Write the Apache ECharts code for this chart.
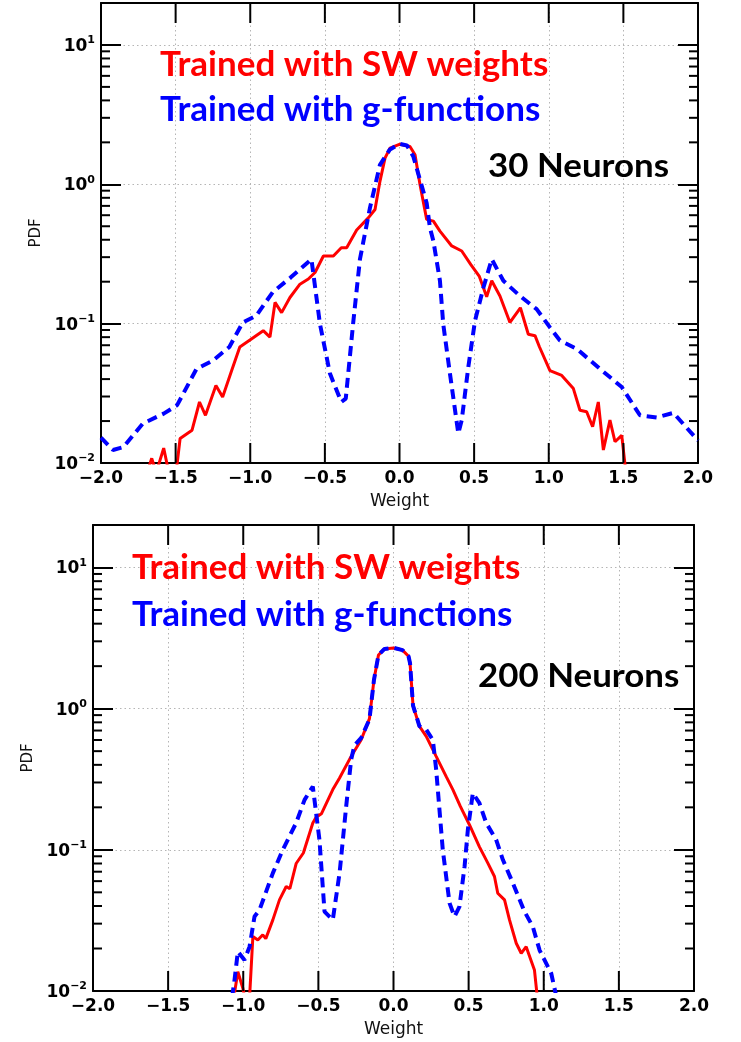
<!DOCTYPE html>
<html>
<head>
<meta charset="utf-8">
<script src="https://cdn.jsdelivr.net/npm/echarts@6/dist/echarts.min.js"></script>
<style>
  html, body { margin: 0; padding: 0; background: #fff; }
  #chart { width: 741px; height: 1042px; }
</style>
</head>
<body>
<div id="chart"></div>
<script>
// ---- 30 neurons: weight distributions ----
const weights30SW = [-1.70, -1.66, -1.63, -1.58, -1.55, -1.50, -1.47, -1.39, -1.34, -1.30, -1.23, -1.185, -1.125, -1.07, -0.99, -0.913, -0.868, -0.834, -0.79, -0.734, -0.667, -0.611, -0.566, -0.51, -0.443, -0.39, -0.354, -0.287, -0.209, -0.164, -0.131, -0.097, -0.064, 0.003, 0.07, 0.104, 0.137, 0.182, 0.227, 0.271, 0.35, 0.417, 0.478, 0.535, 0.584, 0.618, 0.673, 0.74, 0.81, 0.863, 0.908, 0.938, 1.008, 1.087, 1.165, 1.209, 1.254, 1.294, 1.332, 1.366, 1.41, 1.444, 1.489, 1.52];
const pdf30SW = [0.008, 0.0108, 0.0085, 0.0128, 0.009, 0.008, 0.015, 0.0172, 0.0274, 0.022, 0.036, 0.0298, 0.046, 0.068, 0.078, 0.089, 0.080, 0.142, 0.12, 0.154, 0.192, 0.209, 0.233, 0.306, 0.306, 0.351, 0.351, 0.47, 0.574, 0.659, 1.05, 1.54, 1.82, 1.94, 1.87, 1.63, 1.0, 0.56, 0.544, 0.461, 0.361, 0.332, 0.265, 0.218, 0.156, 0.203, 0.158, 0.102, 0.13, 0.084, 0.082, 0.068, 0.046, 0.0425, 0.0342, 0.0239, 0.0233, 0.0182, 0.0274, 0.0124, 0.0203, 0.0142, 0.0158, 0.008];

const weights30G = [-2.0, -1.92, -1.85, -1.72, -1.58, -1.49, -1.36, -1.25, -1.14, -1.05, -0.96, -0.85, -0.73, -0.59, -0.533, -0.466, -0.39, -0.36, -0.31, -0.265, -0.198, -0.131, -0.064, 0.0, 0.05, 0.093, 0.137, 0.182, 0.204, 0.227, 0.249, 0.271, 0.293, 0.338, 0.394, 0.417, 0.461, 0.506, 0.562, 0.618, 0.696, 0.807, 0.919, 1.008, 1.075, 1.187, 1.343, 1.489, 1.611, 1.723, 1.835, 2.0];
const pdf30G = [0.0152, 0.0124, 0.013, 0.0192, 0.0226, 0.026, 0.0474, 0.0544, 0.068, 0.102, 0.114, 0.168, 0.214, 0.29, 0.0995, 0.0438, 0.0274, 0.029, 0.102, 0.29, 0.677, 1.38, 1.78, 1.95, 1.9, 1.58, 1.08, 0.735, 0.487, 0.392, 0.282, 0.203, 0.0995, 0.0438, 0.0163, 0.0203, 0.0488, 0.105, 0.181, 0.29, 0.203, 0.158, 0.127, 0.094, 0.0757, 0.066, 0.0474, 0.0351, 0.022, 0.0212, 0.0229, 0.0145];

// ---- 200 neurons: weight distributions ----
const weights200SW = [-1.07, -1.036, -1.003, -0.98, -0.958, -0.936, -0.903, -0.87, -0.85, -0.803, -0.759, -0.714, -0.69, -0.648, -0.60, -0.537, -0.515, -0.48, -0.404, -0.359, -0.282, -0.215, -0.16, -0.13, -0.10, -0.06, 0.0, 0.06, 0.10, 0.11, 0.13, 0.173, 0.218, 0.284, 0.351, 0.395, 0.445, 0.506, 0.572, 0.628, 0.672, 0.694, 0.739, 0.772, 0.817, 0.85, 0.883, 0.938, 0.955, 0.975];
const pdf200SW = [0.008, 0.0137, 0.0105, 0.008, 0.009, 0.0243, 0.023, 0.025, 0.0235, 0.0319, 0.0442, 0.055, 0.053, 0.08, 0.095, 0.155, 0.17, 0.18, 0.267, 0.323, 0.459, 0.602, 0.85, 1.6, 2.4, 2.65, 2.69, 2.6, 2.35, 2.1, 1.05, 0.748, 0.637, 0.459, 0.33, 0.267, 0.203, 0.15, 0.105, 0.0805, 0.0647, 0.0493, 0.0442, 0.0319, 0.0218, 0.0185, 0.0206, 0.0141, 0.0095, 0.008];

const weights200G = [-1.075, -1.06, -1.036, -0.992, -0.958, -0.925, -0.892, -0.803, -0.737, -0.648, -0.592, -0.537, -0.493, -0.459, -0.404, -0.359, -0.315, -0.282, -0.26, -0.215, -0.16, -0.13, -0.10, -0.06, 0.0, 0.06, 0.10, 0.11, 0.13, 0.173, 0.218, 0.262, 0.284, 0.306, 0.328, 0.373, 0.406, 0.439, 0.473, 0.495, 0.528, 0.572, 0.617, 0.683, 0.728, 0.795, 0.872, 0.927, 0.972, 1.05, 1.085];
const pdf200G = [0.009, 0.0115, 0.019, 0.0166, 0.0206, 0.0337, 0.0375, 0.0684, 0.1, 0.155, 0.226, 0.281, 0.118, 0.0365, 0.0319, 0.0684, 0.203, 0.435, 0.55, 0.62, 0.84, 1.6, 2.4, 2.65, 2.7, 2.6, 2.35, 2.1, 1.05, 0.75, 0.71, 0.6, 0.37, 0.192, 0.1, 0.0419, 0.0337, 0.0396, 0.0762, 0.139, 0.252, 0.214, 0.155, 0.118, 0.085, 0.058, 0.0365, 0.0286, 0.0195, 0.0133, 0.009];

// ---- axis settings ----
const weightMin = -2, weightMax = 2, weightStep = 0.5;
const weightTicks = [-2.0, -1.5, -1.0, -0.5, 0.0, 0.5, 1.0, 1.5, 2.0];
const pdfMin = 0.01, pdfMax = 20;
const pdfMinorTicks = [0.02, 0.03, 0.04, 0.05, 0.06, 0.07, 0.08, 0.09,
                       0.2, 0.3, 0.4, 0.5, 0.6, 0.7, 0.8, 0.9,
                       2, 3, 4, 5, 6, 7, 8, 9];

const legendSW = 'Trained with SW weights';
const legendG = 'Trained with g-functions';
const panelNames = ['30 Neurons', '200 Neurons'];

const zip = (xs, ys) => xs.map((x, i) => [x, ys[i]]);

const TICK_FONT = 'DejaVu Sans';
const gridLine = { show: true, lineStyle: { color: '#b5b5b5', width: 1, type: [1.5, 3] } };
const frameLine = { show: true, onZero: false, lineStyle: { color: '#000', width: 2 } };
const majorTickY = { show: true, inside: true, length: 20, lineStyle: { color: '#000', width: 2 } };

function xAxes(gridIndex) {
  const common = {
    gridIndex, type: 'value', min: weightMin, max: weightMax, interval: weightStep,
    axisLine: frameLine, axisTick: { show: false }
  };
  return [
    Object.assign({}, common, {
      position: 'bottom',
      name: 'Weight', nameLocation: 'middle', nameGap: 30,
      nameTextStyle: { fontFamily: TICK_FONT, fontSize: 17, color: '#111' },
      splitLine: gridLine,
      axisLabel: {
        margin: 7, fontFamily: TICK_FONT, fontWeight: 'bold', fontSize: 17, color: '#000',
        formatter: v => v.toFixed(1).replace('-', '\u2212')
      }
    }),
    Object.assign({}, common, {
      position: 'top', splitLine: { show: false }, axisLabel: { show: false }
    })
  ];
}

function yAxes(gridIndex) {
  const common = {
    gridIndex, type: 'log', logBase: 10, min: pdfMin, max: pdfMax,
    axisLine: frameLine, axisTick: majorTickY
  };
  return [
    Object.assign({}, common, {
      position: 'left',
      name: 'PDF', nameLocation: 'middle', nameGap: 56,
      nameTextStyle: { fontFamily: TICK_FONT, fontSize: 15, color: '#111' },
      splitLine: gridLine,
      axisLabel: {
        margin: 6,
        formatter: v => {
          const lg = Math.log10(v);
          const e = Math.round(lg);
          if (Math.abs(lg - e) > 1e-6) return '';
          return '{b|10}{s|' + (e < 0 ? '\u2212' : '') + Math.abs(e) + '}';
        },
        rich: {
          b: { fontFamily: TICK_FONT, fontWeight: 'bold', fontSize: 17, color: '#000', verticalAlign: 'bottom' },
          s: { fontFamily: TICK_FONT, fontWeight: 'bold', fontSize: 11, color: '#000', verticalAlign: 'bottom', padding: [0, 0, 9, 0] }
        }
      }
    }),
    Object.assign({}, common, {
      position: 'right', splitLine: { show: false }, axisLabel: { show: false }
    })
  ];
}

const tickStroke = { stroke: '#000', lineWidth: 2 };

// short inward minor ticks on both vertical edges of a plot
function minorTickSeries(axisBase) {
  return {
    type: 'custom',
    xAxisIndex: axisBase, yAxisIndex: axisBase,
    silent: true, z: 5,
    data: pdfMinorTicks.map(v => [weightMin, v]),
    renderItem: (params, api) => {
      const y = api.coord([api.value(0), api.value(1)])[1];
      const cs = params.coordSys;
      return {
        type: 'group',
        children: [
          { type: 'line', shape: { x1: cs.x, y1: y, x2: cs.x + 9, y2: y }, style: tickStroke },
          { type: 'line', shape: { x1: cs.x + cs.width - 9, y1: y, x2: cs.x + cs.width, y2: y }, style: tickStroke }
        ]
      };
    }
  };
}

// inward major ticks on the bottom and top edges of a plot
function weightTickSeries(axisBase) {
  return {
    type: 'custom',
    xAxisIndex: axisBase, yAxisIndex: axisBase,
    silent: true, z: 5,
    data: weightTicks.map(w => [w, pdfMin]),
    renderItem: (params, api) => {
      const x = api.coord([api.value(0), api.value(1)])[0];
      const cs = params.coordSys;
      const yb = cs.y + cs.height;
      return {
        type: 'group',
        children: [
          { type: 'line', shape: { x1: x, y1: yb, x2: x, y2: yb - 20 }, style: tickStroke },
          { type: 'line', shape: { x1: x, y1: cs.y, x2: x, y2: cs.y + 20 }, style: tickStroke }
        ]
      };
    }
  };
}

function curves(axisBase, sw, g) {
  return [
    {
      type: 'line', name: legendSW, xAxisIndex: axisBase, yAxisIndex: axisBase,
      data: sw, showSymbol: false, clip: true, z: 3,
      lineStyle: { color: '#ff0000', width: 3 }
    },
    {
      type: 'line', name: legendG, xAxisIndex: axisBase, yAxisIndex: axisBase,
      data: g, showSymbol: false, clip: true, z: 4,
      lineStyle: { color: '#0000ff', width: 4, type: [10, 6] }
    }
  ];
}

const NOTE_FONT = 'Lato';
function note(text, x, y, color, size, stretch) {
  return {
    type: 'text', z: 10, x, y, scaleX: stretch,
    style: { text, x: 0, y: 0, fill: color, fontFamily: NOTE_FONT, fontWeight: 'bold', fontSize: size, verticalAlign: 'middle' }
  };
}

const option = {
  animation: false,
  backgroundColor: '#fff',
  grid: [
    { left: 101, top: 3, width: 597, height: 460 },
    { left: 93, top: 525, width: 601, height: 466 }
  ],
  xAxis: [...xAxes(0), ...xAxes(1)],
  yAxis: [...yAxes(0), ...yAxes(1)],
  series: [
    ...curves(0, zip(weights30SW, pdf30SW), zip(weights30G, pdf30G)),
    minorTickSeries(0),
    weightTickSeries(0),
    ...curves(2, zip(weights200SW, pdf200SW), zip(weights200G, pdf200G)),
    minorTickSeries(2),
    weightTickSeries(2)
  ],
  graphic: [
    note(legendSW, 160, 65, '#ff0000', 34, 1.03),
    note(legendG, 160, 110, '#0000ff', 34, 1.03),
    note(panelNames[0], 488, 167, '#000', 32, 1.09),
    note(legendSW, 132, 568, '#ff0000', 34, 1.03),
    note(legendG, 132, 615, '#0000ff', 34, 1.03),
    note(panelNames[1], 478, 677, '#000', 32, 1.09)
  ]
};

const chart = echarts.init(document.getElementById('chart'), null, { renderer: 'canvas' });
chart.setOption(option);
</script>
</body>
</html>
